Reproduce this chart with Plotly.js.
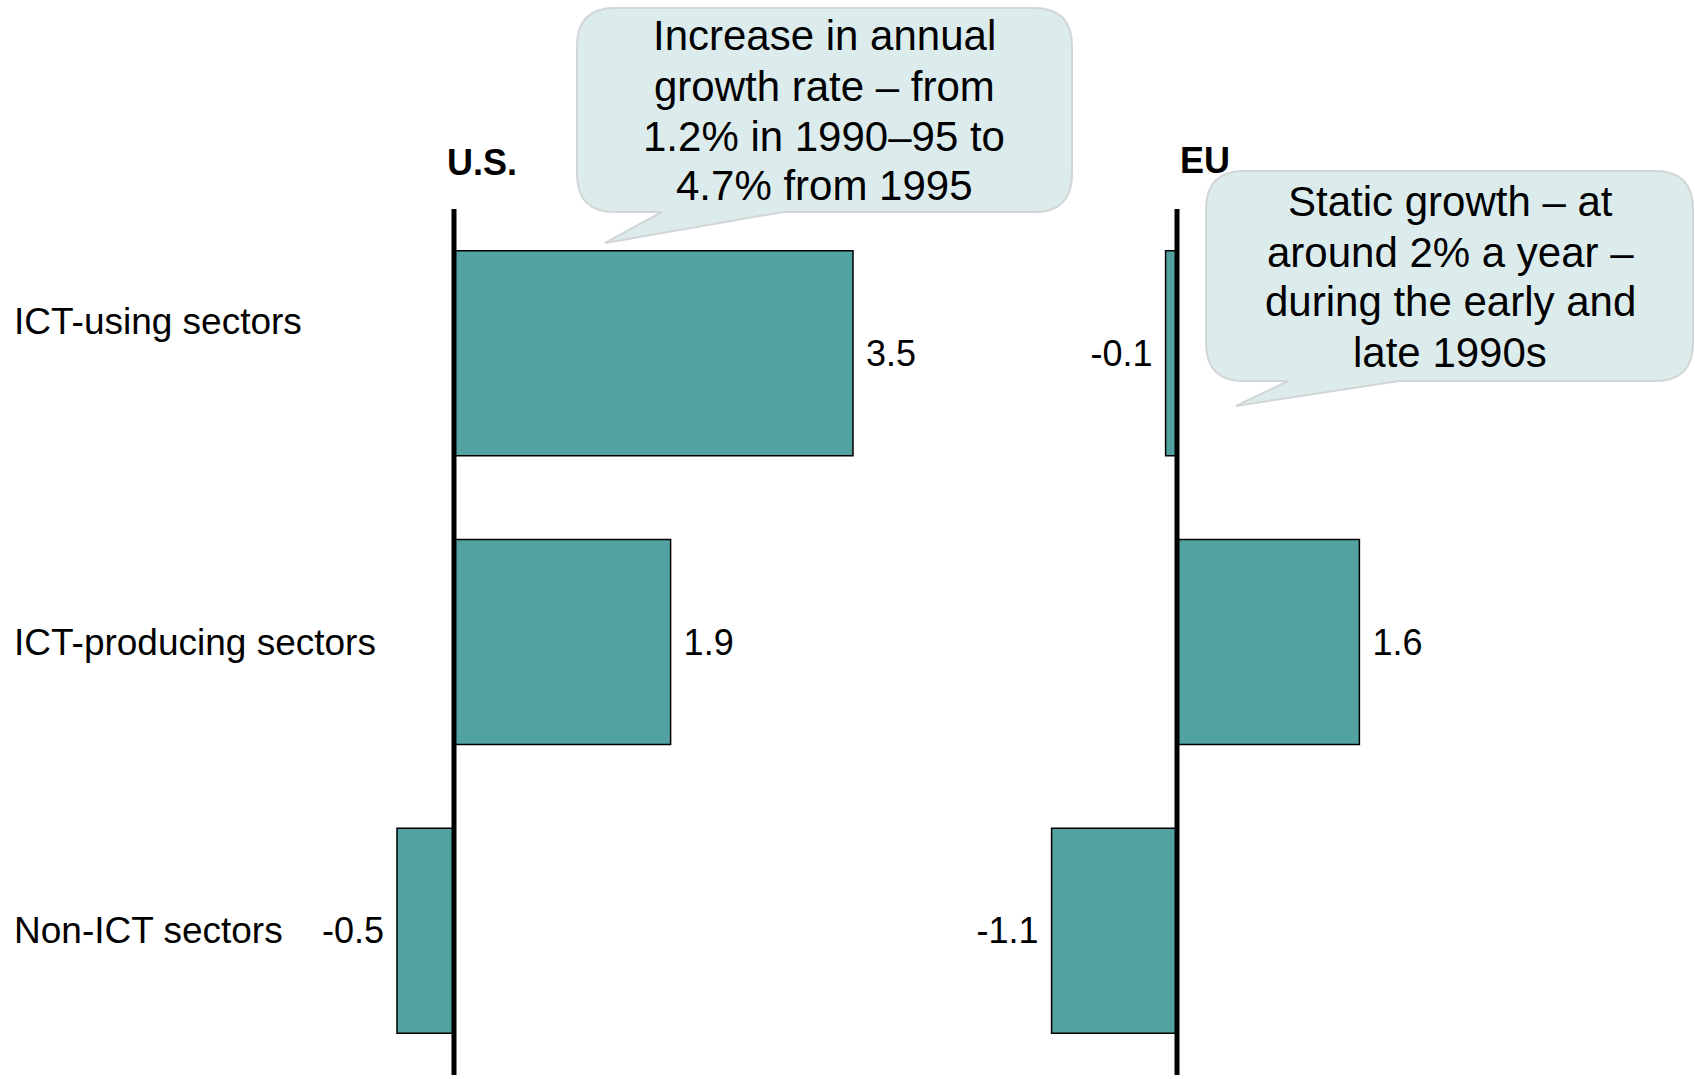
<!DOCTYPE html>
<html>
<head>
<meta charset="utf-8">
<script src="https://cdn.plot.ly/plotly-3.0.1.min.js"></script>
<style>html,body{margin:0;padding:0;background:#fff;}#chart{width:1695px;height:1079px;}</style>
</head>
<body>
<div id="chart"></div>
<script>
// ---- data ----
const categories = ["ICT-using sectors", "ICT-producing sectors", "Non-ICT sectors"];
const usValues = [3.5, 1.9, -0.5];
const euValues = [-0.1, 1.6, -1.1];
const panelTitles = ["U.S.", "EU"];
const usNote = ["Increase in annual", "growth rate \u2013 from", "1.2% in 1990\u201395 to", "4.7% from 1995"];
const euNote = ["Static growth \u2013 at", "around 2% a year \u2013", "during the early and", "late 1990s"];

// ---- layout helpers (pixel geometry) ----
const W = 1695, H = 1079;
const PXU = 114;                 // pixels per unit of growth
const usZero = 454, euZero = 1177;
const plotTop = 209, plotBot = 1075;
const usDom = [300, 950], euDom = [960, 1695];
const fx = v => v / W;
const fy = v => 1 - v / H;
const FONT = '"Liberation Sans", Arial, Helvetica, sans-serif';
const barColor = '#52A2A2';
const NB = '\u00a0';
// value labels with plain hyphen and a little extra padding from the bar end
const label = v => v < 0 ? String(v) + NB : NB + String(v);

function bubblePath(x0, y0, x1, y1, r, tb0, tip, tb1) {
  const P = (x, y) => fx(x) + ',' + fy(y);
  return 'M' + P(x0 + r, y0) + ' L' + P(x1 - r, y0) + ' Q' + P(x1, y0) + ' ' + P(x1, y0 + r) +
    ' L' + P(x1, y1 - r) + ' Q' + P(x1, y1) + ' ' + P(x1 - r, y1) +
    ' L' + P(tb1, y1) + ' L' + P(tip[0], tip[1]) + ' L' + P(tb0, y1) +
    ' L' + P(x0 + r, y1) + ' Q' + P(x0, y1) + ' ' + P(x0, y1 - r) +
    ' L' + P(x0, y0 + r) + ' Q' + P(x0, y0) + ' ' + P(x0 + r, y0) + ' Z';
}

const barCommon = {
  type: 'bar', orientation: 'h', y: categories,
  marker: {color: barColor, line: {color: '#000', width: 1.5}},
  texttemplate: '%{text}', textposition: 'outside', cliponaxis: false,
  constraintext: 'none',
  textfont: {family: FONT, size: 36, color: '#000'},
  hoverinfo: 'skip', showlegend: false
};
const traces = [
  Object.assign({}, barCommon, {x: usValues, text: usValues.map(label), xaxis: 'x', yaxis: 'y'}),
  Object.assign({}, barCommon, {x: euValues, text: euValues.map(label), xaxis: 'x2', yaxis: 'y'})
];

const annotations = [];
const catShift = [32, 0, 0];
categories.forEach((c, i) => annotations.push({
  xref: 'paper', yref: 'y', x: fx(12), y: c, xanchor: 'left', yanchor: 'middle',
  yshift: catShift[i], text: c, showarrow: false,
  font: {family: FONT, size: 37, color: '#000'}
}));
annotations.push({xref: 'paper', yref: 'paper', x: fx(445), y: fy(162), xanchor: 'left', yanchor: 'middle',
  text: '<b>' + panelTitles[0] + '</b>', showarrow: false, font: {family: FONT, size: 36, color: '#000'}});
annotations.push({xref: 'paper', yref: 'paper', x: fx(1178), y: fy(161), xanchor: 'left', yanchor: 'middle',
  text: '<b>' + panelTitles[1] + '</b>', showarrow: false, font: {family: FONT, size: 36, color: '#000'}});
const usLineY = [36, 86, 136, 186], euLineY = [202, 252, 302, 352];
usNote.forEach((t, i) => annotations.push({xref: 'paper', yref: 'paper', x: fx(824), y: fy(usLineY[i]),
  xanchor: 'center', yanchor: 'middle', text: t, showarrow: false, font: {family: FONT, size: 42, color: '#000'}}));
euNote.forEach((t, i) => annotations.push({xref: 'paper', yref: 'paper', x: fx(1450), y: fy(euLineY[i]),
  xanchor: 'center', yanchor: 'middle', text: t, showarrow: false, font: {family: FONT, size: 42, color: '#000'}}));

const shapes = [
  {type: 'path', xref: 'paper', yref: 'paper', layer: 'below',
   path: bubblePath(577, 8, 1072, 212, 38, 662, [605, 243], 783),
   fillcolor: '#DCECEC', line: {color: '#D2D6D6', width: 2}},
  {type: 'path', xref: 'paper', yref: 'paper', layer: 'below',
   path: bubblePath(1206, 171, 1693, 381, 38, 1288, [1236, 406], 1399),
   fillcolor: '#DCECEC', line: {color: '#D2D6D6', width: 2}},
  {type: 'line', xref: 'x', yref: 'paper', x0: 0, x1: 0, y0: fy(plotBot), y1: fy(plotTop), layer: 'above',
   line: {color: '#000', width: 5}},
  {type: 'line', xref: 'x2', yref: 'paper', x0: 0, x1: 0, y0: fy(plotBot), y1: fy(plotTop), layer: 'above',
   line: {color: '#000', width: 5}}
];

const hiddenX = {showgrid: false, zeroline: false, showticklabels: false, showline: false, ticks: '', fixedrange: true};
const layout = {
  width: W, height: H, margin: {l: 0, r: 0, t: 0, b: 0},
  paper_bgcolor: '#fff', plot_bgcolor: 'rgba(0,0,0,0)',
  bargap: 0.29,
  xaxis: Object.assign({}, hiddenX, {domain: [fx(usDom[0]), fx(usDom[1])],
    range: [(usDom[0] - usZero) / PXU, (usDom[1] - usZero) / PXU], anchor: 'y'}),
  xaxis2: Object.assign({}, hiddenX, {domain: [fx(euDom[0]), fx(euDom[1])],
    range: [(euDom[0] - euZero) / PXU, (euDom[1] - euZero) / PXU], anchor: 'y'}),
  yaxis: {domain: [fy(plotBot), fy(plotTop)], type: 'category', categoryorder: 'array', categoryarray: categories,
    range: [2.5, -0.5], showgrid: false, zeroline: false, showticklabels: false, ticks: '', showline: false, fixedrange: true},
  annotations: annotations, shapes: shapes,
  font: {family: FONT}
};
Plotly.newPlot('chart', traces, layout, {displayModeBar: false, staticPlot: true});
</script>
</body>
</html>
